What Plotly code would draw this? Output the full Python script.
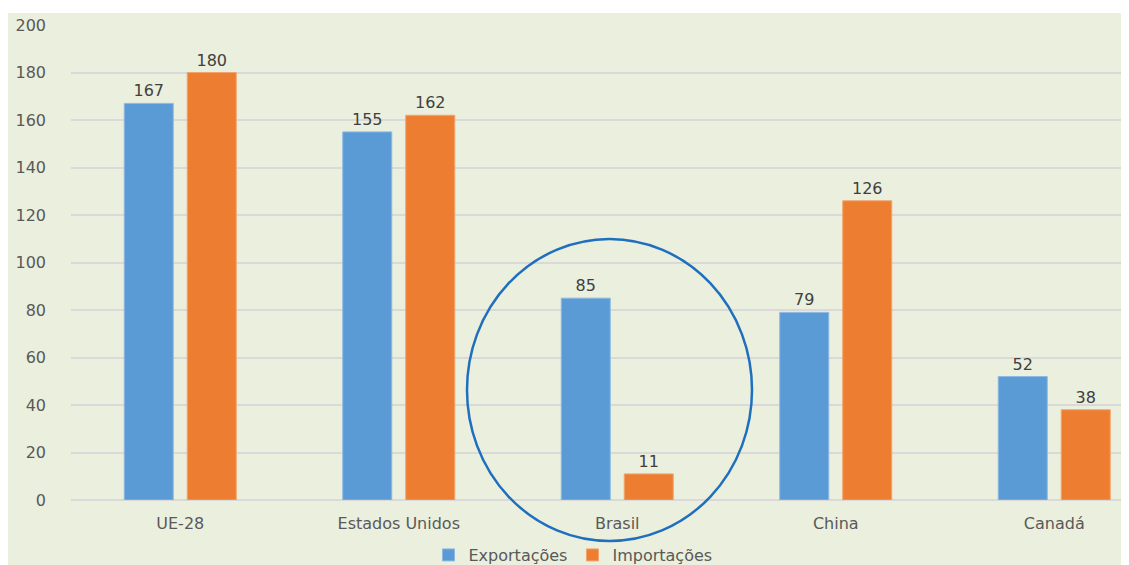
import plotly.graph_objects as go

categories = ["UE-28", "Estados Unidos", "Brasil", "China", "Canadá"]
exportacoes = [167, 155, 85, 79, 52]
importacoes = [180, 162, 11, 126, 38]
y_ticks = [0, 20, 40, 60, 80, 100, 120, 140, 160, 180, 200]

W, H = 1129, 565
OFF = 8  # page body margin: the figure is drawn 8px in from the window corner
BG = "#EBEFDE"
FONT = "DejaVu Sans"

fig = go.Figure()
fig.add_trace(go.Bar(
    name="Exportações", x=categories, y=exportacoes,
    marker=dict(color="#5B9BD5", line=dict(color="#8DB9E3", width=1)),
    text=exportacoes, textposition="outside", cliponaxis=False,
    textfont=dict(family=FONT, size=16, color="#404040"),
))
fig.add_trace(go.Bar(
    name="Importações", x=categories, y=importacoes,
    marker=dict(color="#ED7D31", line=dict(color="#F2A46F", width=1)),
    text=importacoes, textposition="outside", cliponaxis=False,
    textfont=dict(family=FONT, size=16, color="#404040"),
))

# target screen pixels: plot left 71, y=200 at 25, y=0 at 500
ml = 71 - OFF
mt = 25 - OFF
mb = H - (500 - OFF)
mr = 0
pw = W - ml - mr
ph = H - mt - mb
cat_px = 218.5
x_right = -0.5 + pw / cat_px

def px_x(p):  # screen pixel -> paper fraction
    return (p - OFF - ml) / pw

def px_y(p):
    return (H - mb - (p - OFF)) / ph

# background panel (starts a bit inside the white page)
fig.add_shape(type="rect", xref="paper", yref="paper",
              x0=px_x(8), x1=px_x(W + 40),
              y0=px_y(H + 40), y1=px_y(13),
              fillcolor=BG, line=dict(width=0), layer="below")

# ellipse around Brasil (paper coords so it is not clipped by the plot area)
fig.add_shape(type="circle", xref="paper", yref="paper",
              x0=px_x(467), x1=px_x(752),
              y0=px_y(541), y1=px_y(239),
              line=dict(color="#1F6FBF", width=2.5), fillcolor="rgba(0,0,0,0)",
              layer="above")

fig.update_layout(
    width=W, height=H,
    margin=dict(l=ml, r=mr, t=mt, b=mb, autoexpand=False),
    paper_bgcolor="white", plot_bgcolor=BG,
    barmode="group", bargap=0.4233, bargroupgap=0.222,
    font=dict(family=FONT, size=16, color="#595959"),
    showlegend=True,
    legend=dict(orientation="h", x=px_x(573), xanchor="center", y=px_y(555), yanchor="middle",
                font=dict(family=FONT, size=16, color="#595959"),
                bgcolor="rgba(0,0,0,0)", itemwidth=30, traceorder="normal"),
    xaxis=dict(type="category", range=[-0.5, x_right], showgrid=False,
               showline=False, ticks="", ticklabelstandoff=12,
               tickfont=dict(family=FONT, size=16, color="#595959")),
    yaxis=dict(range=[0, 200], tickvals=y_ticks, showgrid=True,
               gridcolor="#D9D9D9", gridwidth=1.5, zeroline=True,
               zerolinecolor="#D9D9D9", zerolinewidth=1.5, showline=False,
               ticks="", ticklabelstandoff=24,
               tickfont=dict(family=FONT, size=16, color="#595959")),
)

fig.write_html("out.html")
